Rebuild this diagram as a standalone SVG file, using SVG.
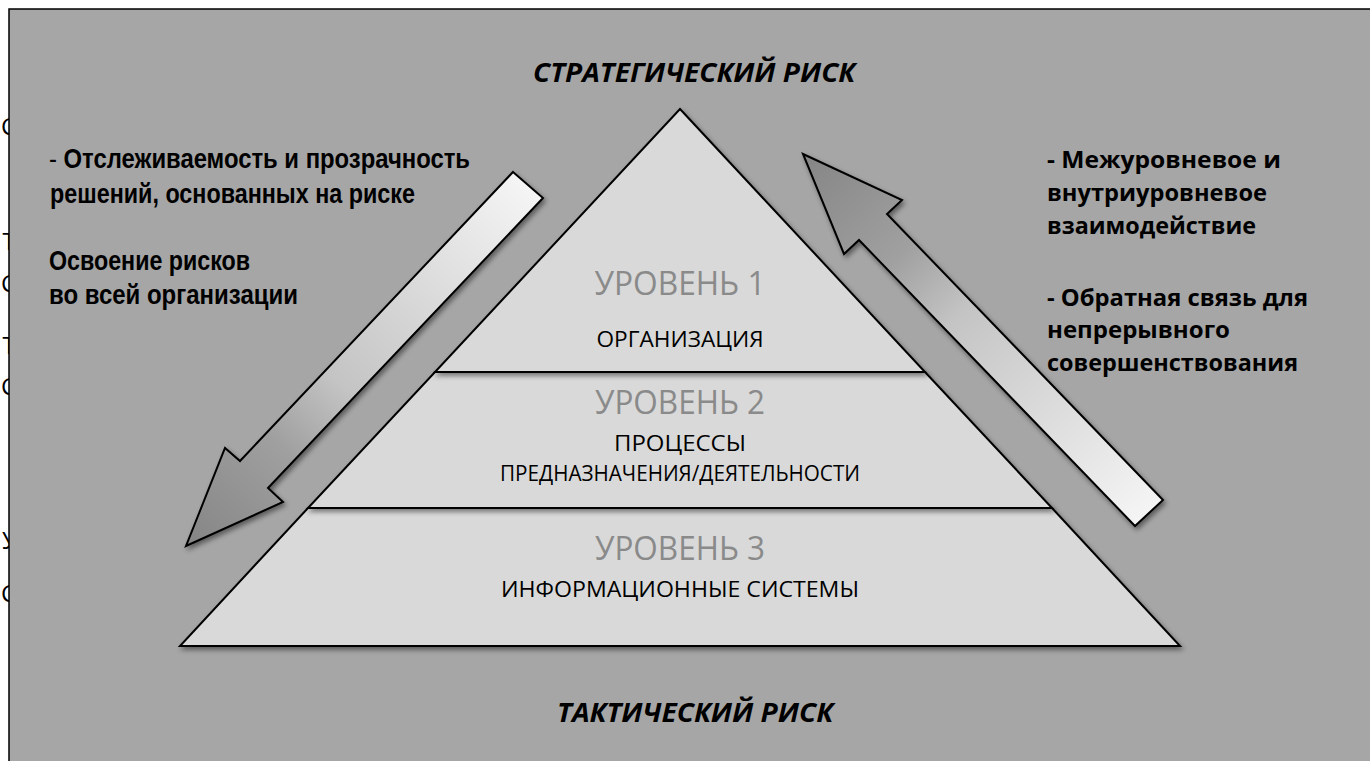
<svg xmlns="http://www.w3.org/2000/svg" width="1370" height="761" viewBox="0 0 1370 761">
  <defs>
    <style>
      .edge { font-family: "Open Sans", "DejaVu Sans", sans-serif; font-size: 24px; fill: #000; }
      .title { font-family: "Open Sans", "DejaVu Sans", sans-serif; font-size: 26px; font-weight: bold; font-style: italic; fill: #000; text-anchor: middle; }
      .lvl { font-family: "Open Sans", "DejaVu Sans", sans-serif; font-size: 32px; fill: #8a8a8a; text-anchor: middle; }
      .cap { font-family: "Open Sans", "DejaVu Sans", sans-serif; font-size: 22px; fill: #000; text-anchor: middle; }
      .ltxt { font-family: "Liberation Sans Narrow", "Liberation Sans", Arial, sans-serif; font-size: 28px; font-weight: bold; fill: #000; }
      .rtxt { font-family: "Open Sans", "DejaVu Sans", sans-serif; font-size: 24px; font-weight: bold; fill: #000; }
      .tier { fill: #d9d9d9; stroke: #000; stroke-width: 2; stroke-linejoin: miter; }
      .arrow { stroke: #000; stroke-width: 2; stroke-linejoin: miter; }
    </style>
    <filter id="sh" x="-10%" y="-10%" width="125%" height="125%">
      <feDropShadow dx="2" dy="3" stdDeviation="2.5" flood-color="#000" flood-opacity="0.45"/>
    </filter>
    <linearGradient id="gDown" gradientUnits="userSpaceOnUse" x1="528" y1="185" x2="186" y2="546">
      <stop offset="0" stop-color="#f5f5f5"/>
      <stop offset="0.55" stop-color="#c4c4c4"/>
      <stop offset="0.72" stop-color="#a0a0a0"/>
      <stop offset="1" stop-color="#858585"/>
    </linearGradient>
    <linearGradient id="gUp" gradientUnits="userSpaceOnUse" x1="1149" y1="513" x2="803" y2="154">
      <stop offset="0" stop-color="#f5f5f5"/>
      <stop offset="0.55" stop-color="#c4c4c4"/>
      <stop offset="0.72" stop-color="#a0a0a0"/>
      <stop offset="1" stop-color="#858585"/>
    </linearGradient>
  </defs>

  <rect x="0" y="0" width="1370" height="761" fill="#ffffff"/>

  <!-- glyphs peeking out at the left edge, behind the panel -->
  <g id="edge-glyphs">
    <text class="edge" x="1" y="135">С</text>
    <text class="edge" x="2.5" y="250">Т</text>
    <text class="edge" x="1" y="292">С</text>
    <text class="edge" x="2.5" y="354">Т</text>
    <text class="edge" x="1" y="395">С</text>
    <text class="edge" x="2" y="549">У</text>
    <text class="edge" x="1" y="602">С</text>
  </g>

  <rect id="panel" x="9" y="9" width="1380" height="770" fill="#a6a6a6" stroke="#000" stroke-width="1.5"/>

  <g id="pyramid">
    <g id="level3">
      <polygon class="tier" filter="url(#sh)" points="308,508 1052,508 1180,646 180,646"/>
      <text class="lvl" x="680" y="560" textLength="170" lengthAdjust="spacingAndGlyphs">УРОВЕНЬ 3</text>
      <text class="cap" x="680" y="597" textLength="358" lengthAdjust="spacingAndGlyphs">ИНФОРМАЦИОННЫЕ СИСТЕМЫ</text>
    </g>
    <g id="level2">
      <polygon class="tier" filter="url(#sh)" points="435,372 925,372 1052,508 308,508"/>
      <text class="lvl" x="680" y="414" textLength="170" lengthAdjust="spacingAndGlyphs">УРОВЕНЬ 2</text>
      <text class="cap" x="680" y="451" textLength="132" lengthAdjust="spacingAndGlyphs">ПРОЦЕССЫ</text>
      <text class="cap" x="680" y="481" textLength="360" lengthAdjust="spacingAndGlyphs">ПРЕДНАЗНАЧЕНИЯ/ДЕЯТЕЛЬНОСТИ</text>
    </g>
    <g id="level1">
      <polygon class="tier" filter="url(#sh)" points="680,109 925,372 435,372"/>
      <text class="lvl" x="680" y="295" textLength="171" lengthAdjust="spacingAndGlyphs">УРОВЕНЬ 1</text>
      <text class="cap" x="680" y="347" textLength="167" lengthAdjust="spacingAndGlyphs">ОРГАНИЗАЦИЯ</text>
    </g>
  </g>

  <g id="connectors">
    <polygon id="arrow-down" class="arrow" fill="url(#gDown)" filter="url(#sh)"
      points="513,172 543,198 268,488 283,502 186,546 225,448 240,461"/>
    <polygon id="arrow-up" class="arrow" fill="url(#gUp)" filter="url(#sh)"
      points="803,154 902,200 887,214 1163,500 1135,526 859,240 844,254"/>
  </g>

  <g id="titles">
    <text id="strategic" class="title" x="694" y="82" textLength="322" lengthAdjust="spacingAndGlyphs">СТРАТЕГИЧЕСКИЙ РИСК</text>
    <text id="tactical" class="title" x="695" y="722" textLength="276" lengthAdjust="spacingAndGlyphs">ТАКТИЧЕСКИЙ РИСК</text>
  </g>

  <g id="left-notes">
    <text class="ltxt" x="49" y="168" textLength="421" lengthAdjust="spacingAndGlyphs"><tspan font-weight="normal">-</tspan> Отслеживаемость и прозрачность</text>
    <text class="ltxt" x="50" y="203" textLength="365" lengthAdjust="spacingAndGlyphs">решений, основанных на риске</text>
    <text class="ltxt" x="49" y="270" textLength="201" lengthAdjust="spacingAndGlyphs">Освоение рисков</text>
    <text class="ltxt" x="49" y="304" textLength="249" lengthAdjust="spacingAndGlyphs">во всей организации</text>
  </g>

  <g id="right-notes">
    <text class="rtxt" x="1047" y="168" textLength="234" lengthAdjust="spacingAndGlyphs">- Межуровневое и</text>
    <text class="rtxt" x="1047" y="201" textLength="220" lengthAdjust="spacingAndGlyphs">внутриуровневое</text>
    <text class="rtxt" x="1047" y="234" textLength="209" lengthAdjust="spacingAndGlyphs">взаимодействие</text>
    <text class="rtxt" x="1047" y="306" textLength="261" lengthAdjust="spacingAndGlyphs">- Обратная связь для</text>
    <text class="rtxt" x="1047" y="338" textLength="183" lengthAdjust="spacingAndGlyphs">непрерывного</text>
    <text class="rtxt" x="1047" y="371" textLength="251" lengthAdjust="spacingAndGlyphs">совершенствования</text>
  </g>
</svg>
